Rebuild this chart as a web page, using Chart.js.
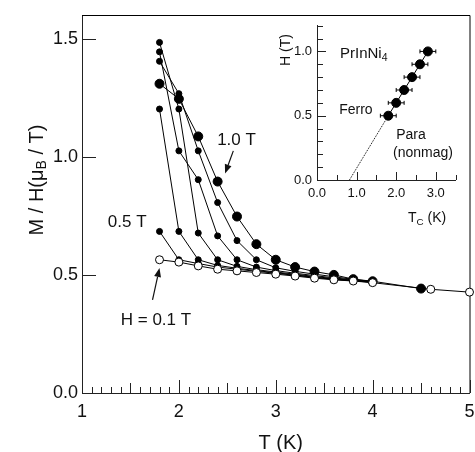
<!DOCTYPE html>
<html>
<head>
<meta charset="utf-8">
<script src="https://cdn.jsdelivr.net/npm/chart.js@4.4.1/dist/chart.umd.min.js"></script>
<style>
  html, body { margin: 0; padding: 0; background: #fff; }
  #wrap { position: relative; width: 475px; height: 452px; overflow: hidden; }
  #main { position: absolute; left: 0; top: 0; }
  #inset { position: absolute; left: 270px; top: 15px; }
</style>
</head>
<body>
<div id="wrap">
  <canvas id="main" width="475" height="452"></canvas>
  <canvas id="inset" width="200" height="215"></canvas>
</div>
<script>
// PrInNi4: M/H against T at several fields, inset H against Tc
var temps     = [1.8, 2.0, 2.2, 2.4, 2.6, 2.8, 3.0, 3.2, 3.4, 3.6, 3.8, 4.0];
var tempsLow  = [1.8, 2.0, 2.2, 2.4, 2.6, 2.8, 3.0, 3.2, 3.4, 3.6, 3.8, 4.0, 4.6, 5.0];
var tempsHigh = [1.8, 2.0, 2.2, 2.4, 2.6, 2.8, 3.0, 3.2, 3.4, 3.6, 3.8, 4.0, 4.5];

var mh01 = [0.564, 0.554, 0.538, 0.524, 0.517, 0.510, 0.503, 0.495, 0.486, 0.479, 0.474, 0.467, 0.439, 0.427];
var mh05 = [0.684, 0.564, 0.548, 0.533, 0.524, 0.515, 0.507, 0.498, 0.489, 0.481, 0.475, 0.468];
var mh06 = [1.202, 0.684, 0.564, 0.540, 0.528, 0.518, 0.509, 0.500, 0.490, 0.482, 0.476, 0.469];
var mh07 = [1.484, 1.202, 0.677, 0.564, 0.536, 0.522, 0.512, 0.503, 0.493, 0.484, 0.477, 0.470];
var mh08 = [1.444, 1.025, 0.903, 0.665, 0.564, 0.533, 0.518, 0.507, 0.497, 0.487, 0.479, 0.471];
var mh09 = [1.404, 1.267, 1.025, 0.806, 0.645, 0.564, 0.530, 0.515, 0.503, 0.492, 0.481, 0.472];
var mh10 = [1.309, 1.245, 1.086, 0.895, 0.747, 0.630, 0.564, 0.533, 0.514, 0.500, 0.482, 0.473, 0.442];

// phase line
var tcVals = [1.8, 2.0, 2.2, 2.4, 2.6, 2.8];
var hVals  = [0.5, 0.6, 0.7, 0.8, 0.9, 1.0];
var tcErr  = [0.2, 0.2, 0.2, 0.2, 0.2, 0.2];
var extTc  = [0.82, 1.8];
var extH   = [0.0, 0.5];

var xTicks = [1, 2, 3, 4, 5];
var yTicks = [0.0, 0.5, 1.0, 1.5];
var insetXTicks = [0.0, 1.0, 2.0, 3.0];
var insetYTicks = [0.0, 0.5, 1.0];

var FONT = '"Liberation Sans", Arial, Helvetica, sans-serif';
var INK = '#111';

function pts(xs, ys) {
  var out = [];
  for (var i = 0; i < ys.length; i++) out.push({ x: xs[i], y: ys[i] });
  return out;
}

function series(xs, ys, style) {
  var d = {
    data: pts(xs, ys),
    showLine: true,
    borderColor: '#000',
    borderWidth: 1,
    pointBackgroundColor: '#000',
    pointBorderColor: '#000',
    pointBorderWidth: 1,
    pointRadius: 3,
    clip: false
  };
  for (var k in style) d[k] = style[k];
  return d;
}

function arrow(ctx, x1, y1, x2, y2) {
  var a = Math.atan2(y2 - y1, x2 - x1), h = 9, w = 3.5;
  ctx.beginPath();
  ctx.moveTo(x1, y1);
  ctx.lineTo(x2 - h * Math.cos(a), y2 - h * Math.sin(a));
  ctx.stroke();
  ctx.beginPath();
  ctx.moveTo(x2, y2);
  ctx.lineTo(x2 - h * Math.cos(a) + w * Math.sin(a), y2 - h * Math.sin(a) - w * Math.cos(a));
  ctx.lineTo(x2 - h * Math.cos(a) - w * Math.sin(a), y2 - h * Math.sin(a) + w * Math.cos(a));
  ctx.closePath();
  ctx.fill();
}

// text with one lowered, smaller part: parts = [[text, isSub], ...]
function subText(ctx, parts, x, y, size) {
  var cx = x;
  parts.forEach(function (p) {
    ctx.font = (p[1] ? size * 0.7 : size) + 'px ' + FONT;
    ctx.fillText(p[0], cx, y + (p[1] ? size * 0.28 : 0));
    cx += ctx.measureText(p[0]).width;
  });
  return cx - x;
}
function subWidth(ctx, parts, size) {
  var w = 0;
  parts.forEach(function (p) {
    ctx.font = (p[1] ? size * 0.7 : size) + 'px ' + FONT;
    w += ctx.measureText(p[0]).width;
  });
  return w;
}

// inward tick marks; list of [value, length]
function inTicks(chart, axis, list) {
  var ctx = chart.ctx, a = chart.chartArea, s = chart.scales[axis];
  ctx.save();
  ctx.strokeStyle = '#222';
  ctx.lineWidth = 1;
  ctx.beginPath();
  list.forEach(function (t) {
    var p = Math.round(s.getPixelForValue(t[0])) + 0.5;
    if (axis === 'x') { ctx.moveTo(p, a.bottom); ctx.lineTo(p, a.bottom - t[1]); }
    else { ctx.moveTo(a.left, p); ctx.lineTo(a.left + t[1], p); }
  });
  ctx.stroke();
  ctx.restore();
}

var mainDecor = {
  id: 'mainDecor',
  beforeDatasetsDraw: function (chart) {
    var ctx = chart.ctx, a = chart.chartArea;
    ctx.save();
    ctx.strokeStyle = '#000';
    ctx.lineWidth = 1;
    ctx.beginPath();
    ctx.moveTo(a.left, a.top + 0.5);
    ctx.lineTo(a.right + 0.5, a.top + 0.5);
    ctx.lineTo(a.right + 0.5, a.bottom);
    ctx.stroke();
    ctx.restore();

    var xt = [];
    for (var i = 10; i <= 50; i++) xt.push([i / 10, i % 10 === 0 ? 13 : (i % 5 === 0 ? 10 : 6)]);
    inTicks(chart, 'x', xt);
    inTicks(chart, 'y', yTicks.map(function (v) { return [v, 14]; }));
  },
  afterDatasetsDraw: function (chart) {
    var ctx = chart.ctx, a = chart.chartArea;
    var X = function (v) { return chart.scales.x.getPixelForValue(v); };
    var Y = function (v) { return chart.scales.y.getPixelForValue(v); };
    ctx.save();
    ctx.fillStyle = INK;
    ctx.strokeStyle = INK;
    ctx.lineWidth = 1.2;
    ctx.textBaseline = 'middle';
    ctx.textAlign = 'left';
    ctx.font = '17px ' + FONT;
    ctx.fillText('1.0 T', X(2.395), Y(1.071));
    ctx.fillText('0.5 T', X(1.267), Y(0.724));
    ctx.fillText('H = 0.1 T', X(1.40), Y(0.309));
    arrow(ctx, X(2.562), Y(1.025), X(2.477), Y(0.929));
    arrow(ctx, X(1.728), Y(0.394), X(1.800), Y(0.529));

    // axis titles
    ctx.textAlign = 'center';
    ctx.font = '20px ' + FONT;
    ctx.fillText('T (K)', (a.left + a.right) / 2 + 5, 443);

    var parts = [['M / H(\u03bc', false], ['B', true], [' / T)', false]];
    var w = subWidth(ctx, parts, 20);
    ctx.translate(37, 180);
    ctx.rotate(-Math.PI / 2);
    ctx.textAlign = 'left';
    subText(ctx, parts, -w / 2, 0, 20);
    ctx.restore();
  }
};

new Chart(document.getElementById('main'), {
  type: 'scatter',
  data: {
    datasets: [
      series(tempsLow, mh01, { pointBackgroundColor: '#fff', pointRadius: 4 }),
      series(tempsHigh, mh10, { pointRadius: 4.5 }),
      series(temps, mh09, {}),
      series(temps, mh08, {}),
      series(temps, mh07, {}),
      series(temps, mh06, {}),
      series(temps, mh05, {})
    ]
  },
  options: {
    responsive: false,
    animation: false,
    events: [],
    layout: { padding: { top: 15, right: 3, left: 0, bottom: 0 } },
    plugins: { legend: { display: false }, tooltip: { enabled: false } },
    scales: {
      x: {
        type: 'linear', min: 1, max: 5,
        afterBuildTicks: function (s) { s.ticks = xTicks.map(function (v) { return { value: v }; }); },
        afterFit: function (s) { s.height = 59; s.paddingLeft = 0; s.paddingRight = 0; },
        grid: { display: false, drawTicks: false },
        border: { display: true, color: '#222', width: 1 },
        ticks: { color: INK, font: { family: FONT, size: 18 }, padding: 8, maxRotation: 0, autoSkip: false,
          callback: function (v) { return String(v); } }
      },
      y: {
        type: 'linear', min: 0, max: 1.6,
        afterBuildTicks: function (s) { s.ticks = yTicks.map(function (v) { return { value: v }; }); },
        afterFit: function (s) { s.width = 82; s.paddingTop = 0; s.paddingBottom = 0; },
        grid: { display: false, drawTicks: false },
        border: { display: true, color: '#222', width: 1 },
        ticks: { color: INK, font: { family: FONT, size: 18 }, padding: 4, autoSkip: false,
          callback: function (v) { return v.toFixed(1); } }
      }
    }
  },
  plugins: [mainDecor]
});

var insetDecor = {
  id: 'insetDecor',
  beforeDatasetsDraw: function (chart) {
    var ctx = chart.ctx;
    var X = function (v) { return chart.scales.x.getPixelForValue(v); };
    var Y = function (v) { return chart.scales.y.getPixelForValue(v); };
    var xt = [];
    for (var i = 0; i <= 7; i++) xt.push([i / 2, i % 2 === 0 ? 8 : 5]);
    inTicks(chart, 'x', xt);
    var yt = [];
    for (var j = 0; j <= 12; j++) yt.push([j / 10, j % 5 === 0 ? 9 : 6]);
    inTicks(chart, 'y', yt);

    // horizontal error bars on Tc
    ctx.save();
    ctx.strokeStyle = '#000';
    ctx.lineWidth = 1;
    ctx.beginPath();
    for (var k = 0; k < tcVals.length; k++) {
      var y = Y(hVals[k]), x1 = X(tcVals[k] - tcErr[k]), x2 = X(tcVals[k] + tcErr[k]);
      ctx.moveTo(x1, y); ctx.lineTo(x2, y);
      ctx.moveTo(x1, y - 2); ctx.lineTo(x1, y + 2);
      ctx.moveTo(x2, y - 2); ctx.lineTo(x2, y + 2);
    }
    ctx.stroke();
    ctx.restore();
  },
  afterDatasetsDraw: function (chart) {
    var ctx = chart.ctx;
    var X = function (v) { return chart.scales.x.getPixelForValue(v); };
    var Y = function (v) { return chart.scales.y.getPixelForValue(v); };
    ctx.save();
    ctx.fillStyle = INK;
    ctx.textBaseline = 'middle';
    ctx.textAlign = 'left';
    subText(ctx, [['PrInNi', false], ['4', true]], X(0.58), Y(0.98), 15);
    ctx.font = '14px ' + FONT;
    ctx.fillText('Ferro', X(0.56), Y(0.545));
    ctx.fillText('Para', X(2.0), Y(0.35));
    ctx.fillText('(nonmag)', X(1.92), Y(0.21));

    subText(ctx, [['T', false], ['C', true], [' (K)', false]], 138, 203, 14);

    ctx.translate(16, 35);
    ctx.rotate(-Math.PI / 2);
    ctx.textAlign = 'center';
    ctx.font = '14px ' + FONT;
    ctx.fillText('H (T)', 0, 0);
    ctx.restore();
  }
};

new Chart(document.getElementById('inset'), {
  type: 'scatter',
  data: {
    datasets: [
      series(tcVals, hVals, { pointRadius: 4.5 }),
      series(extTc, extH, { pointRadius: 0, borderDash: [1, 1] })
    ]
  },
  options: {
    responsive: false,
    animation: false,
    events: [],
    layout: { padding: { top: 10.7, right: 14.4, left: 0, bottom: 0 } },
    plugins: { legend: { display: false }, tooltip: { enabled: false } },
    scales: {
      x: {
        type: 'linear', min: 0, max: 3.5,
        afterBuildTicks: function (s) { s.ticks = insetXTicks.map(function (v) { return { value: v }; }); },
        afterFit: function (s) { s.height = 50; s.paddingLeft = 0; s.paddingRight = 0; },
        grid: { display: false, drawTicks: false },
        border: { display: true, color: '#222', width: 1 },
        ticks: { color: INK, font: { family: FONT, size: 13 }, padding: 6, maxRotation: 0, autoSkip: false,
          callback: function (v) { return v.toFixed(1); } }
      },
      y: {
        type: 'linear', min: 0, max: 1.2,
        afterBuildTicks: function (s) { s.ticks = insetYTicks.map(function (v) { return { value: v }; }); },
        afterFit: function (s) { s.width = 47; s.paddingTop = 0; s.paddingBottom = 0; },
        grid: { display: false, drawTicks: false },
        border: { display: true, color: '#222', width: 1 },
        ticks: { color: INK, font: { family: FONT, size: 13 }, padding: 5, autoSkip: false,
          callback: function (v) { return v.toFixed(1); } }
      }
    }
  },
  plugins: [insetDecor]
});
</script>
</body>
</html>
